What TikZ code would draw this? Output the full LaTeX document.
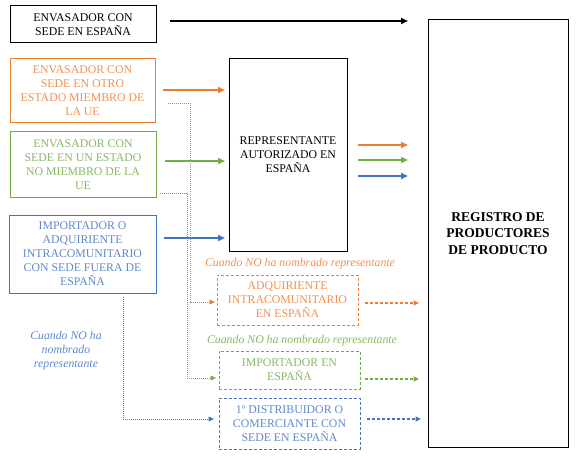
\documentclass[tikz,border=0pt]{standalone}
\usepackage{fontspec}
\setmainfont{Liberation Serif}
\usetikzlibrary{arrows.meta}
\definecolor{cor}{HTML}{ED7D31}
\definecolor{cgr}{HTML}{70AD47}
\definecolor{cbl}{HTML}{4472C4}
\begin{document}
\begin{tikzpicture}[x=1pt,y=-1pt,
  box/.style={draw, line width=1pt, align=center, inner sep=0pt,
    font=\fontsize{11.8}{14}\selectfont},
  dbox/.style={box, line width=0.8pt, dash pattern=on 3pt off 2pt},
  tip/.style={-{Triangle[length=7pt,width=6pt]}},
  stip/.style={-{Triangle[length=5.5pt,width=5pt]}},
  solidarr/.style={tip, line width=1.8pt},
  dasharr/.style={stip, line width=1.1pt, dash pattern=on 3pt off 2pt},
  dotarr/.style={stip, line width=0.6pt, dash pattern=on 1pt off 1pt},
  lbl/.style={font=\fontsize{11.8}{14}\selectfont\itshape, align=center, inner sep=0pt}]
\useasboundingbox (0,0) rectangle (579,460);
% boxes
\node[box, minimum width=146pt, minimum height=37pt] (b1) at (83,24.5) {ENVASADOR CON\\SEDE EN ESPAÑA};
\node[box, draw=cor, text=cor!85, minimum width=145pt, minimum height=64pt] (b2) at (82.5,91) {ENVASADOR CON\\SEDE EN OTRO\\ESTADO MIEMBRO DE\\LA UE};
\node[box, draw=cgr, text=cgr!85, minimum width=146pt, minimum height=65pt] (b3) at (83,164.5) {ENVASADOR CON\\SEDE EN UN ESTADO\\NO MIEMBRO DE LA\\UE};
\node[box, draw=cbl, text=cbl!85, minimum width=147pt, minimum height=78pt] (b4) at (82.5,254) {IMPORTADOR O\\ADQUIRIENTE\\INTRACOMUNITARIO\\CON SEDE FUERA DE\\ESPAÑA};
\node[box, minimum width=118pt, minimum height=192pt] (rep) at (288,155) {REPRESENTANTE\\AUTORIZADO EN\\ESPAÑA};
\node[box, minimum width=140pt, minimum height=427pt, font=\fontsize{13.5}{16.5}\selectfont\bfseries] (reg) at (498,233.5) {REGISTRO DE\\PRODUCTORES\\DE PRODUCTO};
\node[dbox, draw=cor, text=cor!85, minimum width=141pt, minimum height=50pt] (adq) at (287.5,300) {ADQUIRIENTE\\INTRACOMUNITARIO\\EN ESPAÑA};
\node[dbox, draw=cgr, text=cgr!85, minimum width=141pt, minimum height=38pt] (imp) at (289.5,370) {IMPORTADOR EN\\ESPAÑA};
\node[dbox, draw=cbl, text=cbl!85, minimum width=141pt, minimum height=51pt] (dist) at (289.5,423.5) {1º DISTRIBUIDOR O\\COMERCIANTE CON\\SEDE EN ESPAÑA};
% labels
\node[lbl, text=cor!85] (l1) at (300,264) {Cuando NO ha nombrado representante};
\node[lbl, text=cgr!85] (l2) at (302,341) {Cuando NO ha nombrado representante};
\node[lbl, text=cbl!85] (l3) at (66,351) {Cuando NO ha\\nombrado\\representante};
% coordinates
\coordinate (k1s) at (170,21); \coordinate (k1e) at (408,21);
\coordinate (o1s) at (163,90); \coordinate (o1e) at (225,90);
\coordinate (g1s) at (165,161); \coordinate (g1e) at (225,161);
\coordinate (u1s) at (164,238); \coordinate (u1e) at (225,238);
\coordinate (o2s) at (358,145); \coordinate (o2e) at (408,145);
\coordinate (g2s) at (358,160); \coordinate (g2e) at (408,160);
\coordinate (u2s) at (358,176); \coordinate (u2e) at (408,176);
\coordinate (o3s) at (365,303); \coordinate (o3e) at (419,303);
\coordinate (g3s) at (365,379); \coordinate (g3e) at (419,379);
\coordinate (u3s) at (367,419); \coordinate (u3e) at (421,419);
\coordinate (od) at (168,103); \coordinate (odv) at (190,302); \coordinate (ode) at (215,302);
\coordinate (gd) at (160,193); \coordinate (gdv) at (187,378); \coordinate (gde) at (216,378);
\coordinate (ud) at (123,297); \coordinate (ude) at (214,419);
% arrows
\draw[solidarr, line width=2.3pt] (k1s) -- (k1e);
\draw[solidarr, cor] (o1s) -- (o1e);
\draw[solidarr, cgr] (g1s) -- (g1e);
\draw[solidarr, cbl] (u1s) -- (u1e);
\draw[solidarr, cor] (o2s) -- (o2e);
\draw[solidarr, cgr] (g2s) -- (g2e);
\draw[solidarr, cbl] (u2s) -- (u2e);
\draw[dasharr, cor] (o3s) -- (o3e);
\draw[dasharr, cgr] (g3s) -- (g3e);
\draw[dasharr, cbl] (u3s) -- (u3e);
\draw[dotarr, cor] (od) -| (odv) -- (ode);
\draw[dotarr, cgr] (gd) -| (gdv) -- (gde);
\draw[dotarr, cbl] (ud) |- (ude);
\end{tikzpicture}
\end{document}
